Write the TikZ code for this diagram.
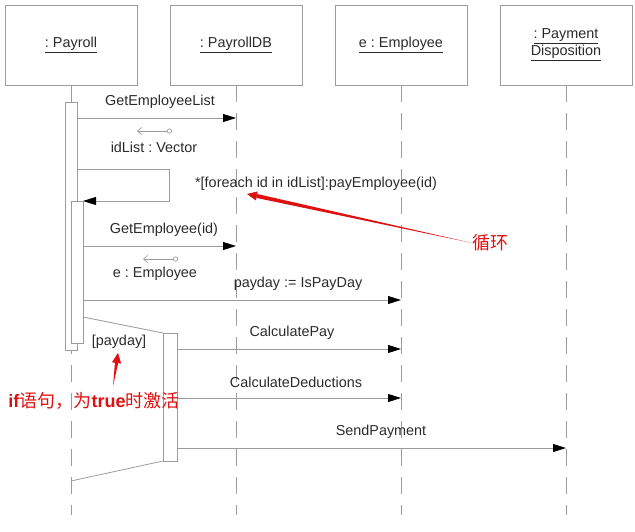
\documentclass[tikz,border=0pt]{standalone}
\usepackage{fontspec}
\setmainfont{Liberation Sans}
\newfontfamily\cjk{Noto Sans CJK SC}
\usetikzlibrary{arrows.meta,calc}
\definecolor{ln}{HTML}{9C9C9C}
\definecolor{tx}{HTML}{2A2A2A}
\definecolor{rd}{HTML}{E01010}
\frenchspacing
\begin{document}
\begin{tikzpicture}[x=1pt,y=-1pt,
  hdr/.style={draw=ln, line width=0.8pt, minimum width=132pt, minimum height=80pt, inner sep=0pt, font=\fontsize{14.4}{17}\selectfont, text=tx, align=center},
  life/.style={draw=ln, line width=0.8pt, dash pattern=on 17pt off 11pt},
  bar/.style={draw=ln, fill=white, line width=0.8pt},
  msg/.style={draw=ln, line width=0.8pt, -{Triangle[length=13pt,width=8pt,black]}},
  ret/.style={draw=ln, line width=0.7pt, {Straight Barb[length=4pt,width=7pt]}-{Circle[open,length=5pt,width=5pt]}},
  lbl/.style={font=\fontsize{14.4}{17}\selectfont, text=tx, inner sep=0pt},
  note/.style={font=\fontsize{18}{20}\selectfont, text=rd, inner sep=0pt},
  redhead/.style={draw=rd, fill=rd, line width=0.5pt, -{Triangle[length=10pt,width=9pt]}}
]
\useasboundingbox (0,0) rectangle (635,532);
% headers
\node[hdr] (h1) at (71,45) {\underline{: Payroll}};
\node[hdr] (h2) at (236,45) {\underline{: PayrollDB}};
\node[hdr] (h3) at (401,45) {\underline{e : Employee}};
\node[hdr] (h4) at (566,45) {\underline{: Payment}\\\underline{Disposition}};
% lifelines
\coordinate (e1) at (71,515);
\coordinate (e2) at (236,515);
\coordinate (e3) at (401,515);
\coordinate (e4) at (566,515);
\draw[life] (h1.south) -- (e1);
\draw[life] (h2.south) -- (e2);
\draw[life] (h3.south) -- (e3);
\draw[life] (h4.south) -- (e4);
% activation bars
\draw[bar] (65,102) rectangle (77,350);
\draw[bar] (71,201) rectangle (83,343);
\draw[draw=ln, line width=0.8pt] (83,317) -- (163,333);
\draw[draw=ln, line width=0.8pt] (71,481) -- (163,461);
\draw[bar] (163,333) rectangle (177,461);
% messages
\coordinate (m1) at (77,118);
\draw[msg] (m1) -- (m1 -| h2);
\node[lbl] (l1) at (160,102) {GetEmployeeList};
\coordinate (r1a) at (137,131);
\coordinate (r1b) at (172,131);
\draw[ret] (r1a) -- (r1b);
\node[lbl] (l2) at (154,147) {idList : Vector};
\coordinate (s1) at (77,169);
\coordinate (s2) at (169,169);
\coordinate (s3) at (169,201);
\coordinate (s4) at (83,201);
\draw[msg] (s1) -- (s2) -- (s3) -- (s4);
\node[lbl] (l3) at (316,184) {*[foreach id in idList]:payEmployee(id)};
\coordinate (m2) at (83,246);
\draw[msg] (m2) -- (m2 -| h2);
\node[lbl] (l4) at (164,230) {GetEmployee(id)};
\coordinate (r2a) at (143,259);
\coordinate (r2b) at (178,259);
\draw[ret] (r2a) -- (r2b);
\node[lbl] (l5) at (155,274) {e : Employee};
\coordinate (m3) at (83,300);
\draw[msg] (m3) -- (m3 -| h3);
\node[lbl] (l6) at (298,284) {payday := IsPayDay};
\node[lbl] (l7) at (119,342) {[payday]};
\coordinate (m4) at (177,349);
\draw[msg] (m4) -- (m4 -| h3);
\node[lbl] (l8) at (292,333) {CalculatePay};
\coordinate (m5) at (177,398);
\draw[msg] (m5) -- (m5 -| h3);
\node[lbl] (l9) at (296,382) {CalculateDeductions};
\coordinate (m6) at (177,448);
\draw[msg] (m6) -- (m6 -| h4);
\node[lbl] (l10) at (381,432) {SendPayment};
% red annotations
\node[note, anchor=west] (n1) at (472,243) {\cjk 循环};
\coordinate (a1h) at (247,194);
\coordinate (a1b) at (257,196);
\coordinate (a1t) at (n1.west);
\fill[rd] (a1t) -- ($(a1b)!2pt!90:(a1t)$) -- ($(a1b)!2pt!-90:(a1t)$) -- cycle;
\draw[redhead] (a1b) -- (a1h);
\node[note] (n2) at (94,401) {\textbf{if}{\cjk 语句，为}\textbf{true}{\cjk 时激活}};
\coordinate (a2t) at (113,386);
\coordinate (a2b) at (116.7,362);
\coordinate (a2h) at (118,353);
\fill[rd] (a2t) -- ($(a2b)!1.7pt!90:(a2t)$) -- ($(a2b)!1.7pt!-90:(a2t)$) -- cycle;
\draw[redhead] (a2b) -- (a2h);
\end{tikzpicture}
\end{document}
